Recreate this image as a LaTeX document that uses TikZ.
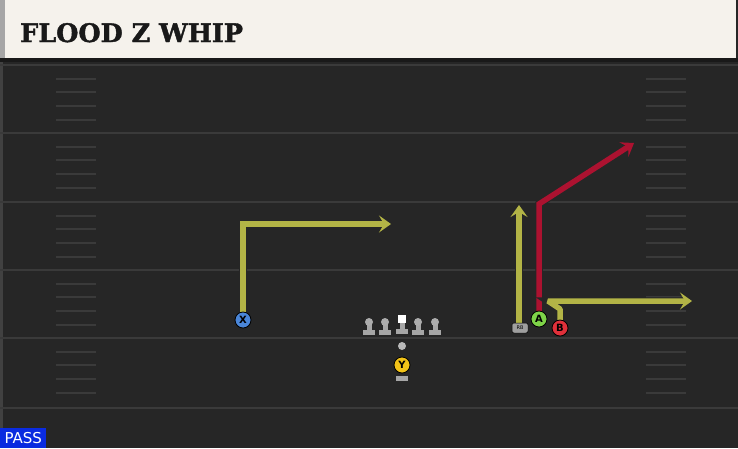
\documentclass[tikz,border=0pt]{standalone}
\usepackage{fontspec}
\setmainfont{DejaVu Sans}
\newfontfamily\titlefont[BoldFeatures={FakeBold=1.6}]{DejaVu Serif}
\usetikzlibrary{arrows.meta}
\definecolor{field}{HTML}{262626}
\definecolor{paper}{HTML}{F5F2EC}
\definecolor{yardline}{HTML}{3A3A3A}
\definecolor{olive}{HTML}{B3B446}
\definecolor{crimson}{HTML}{AC1230}
\definecolor{xblue}{HTML}{4A86D8}
\definecolor{ygold}{HTML}{F2C318}
\definecolor{agreen}{HTML}{7ED348}
\definecolor{bred}{HTML}{E0303A}
\definecolor{passblue}{HTML}{0A2BE0}
\begin{document}
\begin{tikzpicture}[x=1pt, y=-1pt,
  player/.style={shape=circle, draw=black, line width=0.8pt, minimum size=16pt, inner sep=0pt, font=\fontsize{10}{10}\selectfont\bfseries},
  head/.style={shape=circle, fill=gray!65, minimum size=8pt, inner sep=0pt},
  stand/.style={fill=gray!70, minimum width=12pt, minimum height=5pt, inner sep=0pt},
  route/.style={line width=5.5pt, preaction={draw=black!85, line width=7.5pt}, -{Stealth[length=12pt, width=17pt, inset=5pt]}}]
\useasboundingbox (0,0) rectangle (738,448);
% field and title bar
\fill[field] (0,0) rectangle (738,448);
\fill[gray!30!field] (0,62) rectangle (3,448);
\fill[paper] (0,0) rectangle (736,58);
\fill[gray!70] (0,0) rectangle (5,58);
\fill[black!90] (0,58) rectangle (738,62);
\node[anchor=base west, font=\titlefont\bfseries\fontsize{25.5}{26}\selectfont, text=black!90, inner sep=0pt] (title) at (20,42) {FLOOD Z WHIP};
% yard lines and hashes
\foreach \yy in {65,133,202,270,338,408} {
  \draw[yardline, line width=2.5pt] (0,\yy) -- (738,\yy);
}
\foreach \yy in {65,133,202,270,338} {
  \foreach \k in {1,...,4} {
    \draw[yardline, line width=2pt] (56,\yy+13.7*\k) -- (96,\yy+13.7*\k);
    \draw[yardline, line width=2pt] (646,\yy+13.7*\k) -- (686,\yy+13.7*\k);
  }
}
% line
\foreach \n/\xx in {LT/369, LG/385, RG/418, RT/435} {
  \node[stand] (\n b) at (\xx,332) {};
  \fill[gray!70] (\xx-2.5,323) rectangle (\xx+2.5,330);
  \node[head] (\n) at (\xx,322) {};
}
\node[stand] (Cb) at (402,331) {};
\fill[gray!70] (399.5,322) rectangle (404.5,329);
\node[shape=rectangle, fill=white, minimum size=8pt, inner sep=0pt] (C) at (401.5,318.5) {};
\node[shape=circle, fill=gray!55, minimum size=8pt, inner sep=0pt] (QB) at (402,346) {};
% skill players
\node[stand] (Yb) at (402,378) {};
\node[player, fill=ygold] (Y) at (402,365) {Y};
\coordinate (xcut) at (243,224);
\coordinate (xend) at (391,224);
\coordinate (rbend) at (519,205);
\coordinate (acut) at (539,204);
\coordinate (aend) at (634,143);
\coordinate (bup) at (560,309);
\coordinate (bcut) at (548,301);
\coordinate (bend) at (692,301);
% routes
\draw[route, olive] (243,312) -- (xcut) -- (xend);
\draw[route, olive] (519,323) -- (rbend);
\draw[route, crimson] (539,311) -- (acut) -- (aend);
\draw[route, olive, line join=bevel] (560,320) -- (bup) -- (bcut) -- (bend);
\node[player, fill=xblue] (X) at (243,320) {X};
\node[shape=rectangle, rounded corners=2pt, fill=gray!75, draw=black, line width=0.5pt, minimum width=16pt, minimum height=10pt, inner sep=0pt, font=\fontsize{5}{5}\selectfont] (RB) at (520,328) {RB};
\node[player, fill=agreen] (A) at (539,319) {A};
\node[player, fill=bred] (B) at (560,328) {B};
% play type
\node[fill=passblue, text=white, anchor=south west, minimum width=46pt, minimum height=20pt, inner sep=0pt, font=\fontsize{15}{15}\selectfont] (pass) at (0,448) {PASS};
\end{tikzpicture}
\end{document}
